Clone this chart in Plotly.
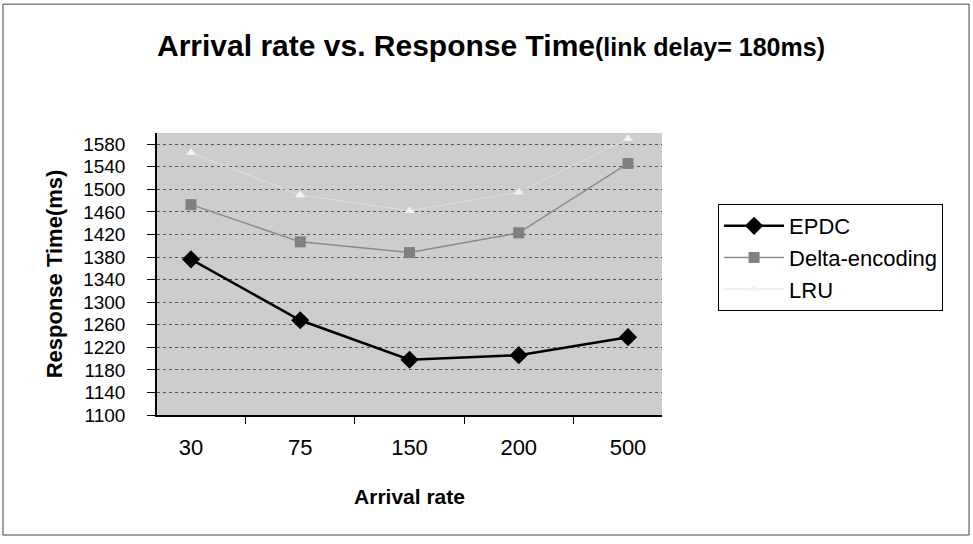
import plotly.graph_objects as go

categories = ["30", "75", "150", "200", "500"]
epdc = [1376, 1268, 1198, 1206, 1238]
delta = [1473, 1407, 1388, 1423, 1546]
lru = [1565, 1490, 1462, 1495, 1590]
y_ticks = list(range(1100, 1581, 40))

FONT = "Liberation Sans, Arial, sans-serif"

fig = go.Figure()
fig.add_trace(go.Scatter(
    x=categories, y=epdc, name="EPDC", mode="lines+markers",
    line=dict(color="black", width=2.5),
    marker=dict(symbol="diamond", size=14, color="black"),
))
fig.add_trace(go.Scatter(
    x=categories, y=delta, name="Delta-encoding", mode="lines+markers",
    line=dict(color="#8a8a8a", width=1.5),
    marker=dict(symbol="square", size=11, color="#808080"),
))
fig.add_trace(go.Scatter(
    x=categories, y=lru, name="LRU", mode="lines+markers",
    line=dict(color="#dedede", width=1),
    marker=dict(symbol="triangle-up", size=9, color="#f2f2f2"),
))

fig.update_layout(
    width=973, height=544,
    margin=dict(l=157, r=311, t=133, b=129),
    paper_bgcolor="white",
    plot_bgcolor="#cdcdcd",
    font=dict(family=FONT, color="black"),
    showlegend=True,
    legend=dict(
        x=1.111, y=0.748, xanchor="left", yanchor="top",
        bgcolor="white", bordercolor="black", borderwidth=1,
        font=dict(size=22, family=FONT),
        itemwidth=60, tracegroupgap=2,
    ),
    xaxis=dict(
        type="category", showline=True, linecolor="black", linewidth=1.5,
        ticks="outside", ticklen=7, tickcolor="black", tickson="boundaries",
        showgrid=False, mirror=False,
        tickfont=dict(size=22, family=FONT), ticklabelstandoff=12,
        title=dict(text="<b>Arrival rate</b>", font=dict(size=21, family=FONT), standoff=30),
    ),
    yaxis=dict(
        range=[1100, 1600], tickvals=y_ticks, ticktext=[str(v) for v in y_ticks],
        showline=True, linecolor="black", linewidth=1.5,
        ticks="outside", ticklen=8, tickcolor="black",
        showgrid=True, gridcolor="#5a5a5a", griddash="dot", gridwidth=1,
        zeroline=False,
        tickfont=dict(size=19, family=FONT), ticklabelstandoff=18,
        title=dict(text="<b>Response Time(ms)</b>", font=dict(size=22, family=FONT), standoff=14),
    ),
    annotations=[dict(
        xref="paper", yref="paper", x=0.661, y=1.312, xanchor="center", yanchor="middle",
        showarrow=False,
        text="<b>Arrival rate vs. Response Time</b><b><span style='font-size:25px'>(link delay= 180ms)</span></b>",
        font=dict(size=30, family=FONT, color="black"),
    )],
    shapes=[dict(
        type="rect", xref="paper", yref="paper",
        x0=-0.305, x1=1.608, y0=-0.4255, y1=1.457,
        line=dict(color="#444444", width=1), fillcolor="rgba(0,0,0,0)", layer="below",
    )],
)

fig.write_html("out.html")
